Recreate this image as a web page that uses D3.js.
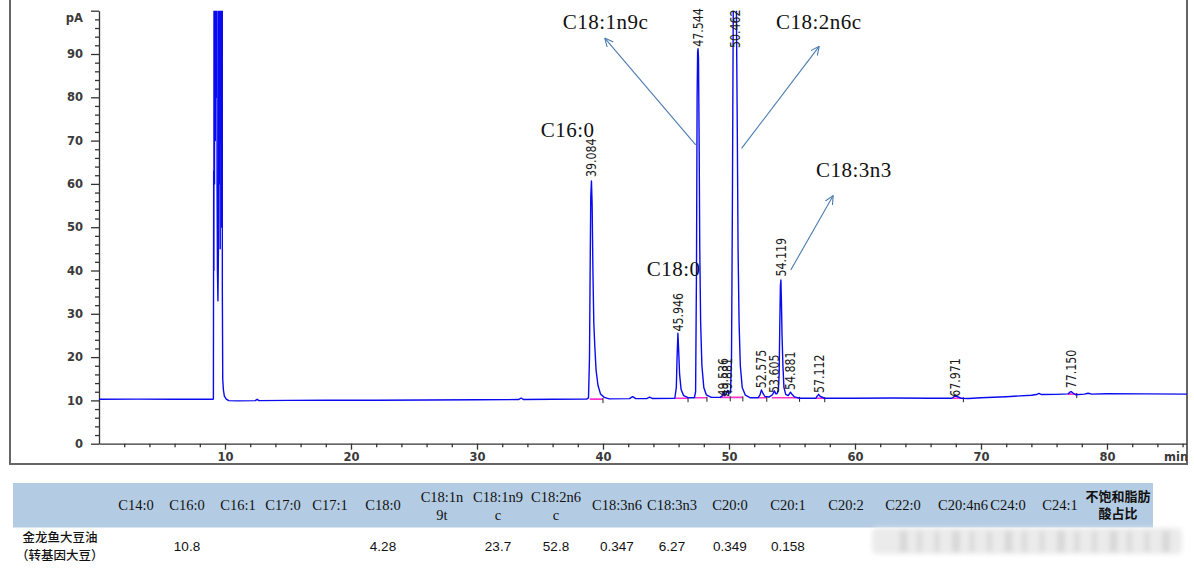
<!DOCTYPE html>
<html><head><meta charset="utf-8">
<script src="https://cdn.jsdelivr.net/npm/d3@7"></script>
<style>body{margin:0;background:#fff}svg{display:block}</style>
</head><body>
<svg id="c" width="1194" height="569"></svg>
<script>
// ---------------- DATA ----------------
// chromatogram trace: [retention time (min), signal (pA)]
const trace = [
 [0,10.25],[3,10.3],[6,10.25],[9.0,10.25],[9.08,10.3],[9.10,63],[9.12,40],[9.14,250],[9.17,60],[9.20,250],[9.23,70],[9.26,250],[9.29,80],[9.32,250],[9.34,250],[9.37,60],[9.40,40],[9.44,33],[9.48,45],[9.53,250],[9.56,60],[9.59,250],[9.62,45],[9.65,250],[9.68,70],[9.71,250],[9.74,50],[9.77,250],[9.79,35],[9.82,15],[9.87,12.5],[9.95,11],[10.1,10.3],[10.3,9.95],[11,9.9],[12.4,9.95],[12.55,10.25],[12.7,9.95],[15,10.0],[18,10.05],[22,10.05],[26,10.1],[30,10.15],[33.3,10.2],[33.5,10.55],[33.7,10.2],[36,10.25],[38.7,10.3],[38.85,10.6],[38.93,20],[38.98,40],[39.03,57],[39.084,60.7],[39.14,55],[39.2,40],[39.27,28],[39.35,22.5],[39.45,17],[39.6,13.5],[39.8,11.5],[40.1,10.7],[40.5,10.35],[42.1,10.4],[42.35,10.85],[42.6,10.4],[43.5,10.45],[43.7,10.75],[43.9,10.45],[45.7,10.5],[45.82,13],[45.88,20],[45.946,25.5],[46.0,22],[46.08,16],[46.2,12.5],[46.4,11.1],[46.8,10.6],[47.25,10.6],[47.35,12],[47.42,40],[47.47,80],[47.51,90.5],[47.544,91.2],[47.58,89],[47.63,70],[47.68,45],[47.75,28],[47.85,18],[48.0,13],[48.2,11.3],[48.6,10.7],[49.3,10.7],[49.45,11],[49.536,11.8],[49.65,11.1],[49.75,11.3],[49.881,12.3],[49.98,11.6],[50.12,11.8],[50.2,20],[50.27,55],[50.33,95],[50.37,115],[50.56,115],[50.6,95],[50.66,72],[50.72,45],[50.8,28],[50.9,18],[51.05,13],[51.3,11.2],[51.7,10.6],[52.3,10.6],[52.45,11.2],[52.575,12.4],[52.7,11.6],[52.85,10.9],[53.2,10.8],[53.45,11.3],[53.605,12.2],[53.72,11.5],[53.82,11.6],[53.92,12.5],[53.98,16],[54.03,27],[54.08,36.5],[54.119,37.8],[54.16,33],[54.21,25],[54.28,18],[54.36,13],[54.5,11.4],[54.7,11.1],[54.881,11.9],[55.0,11.4],[55.2,10.8],[55.6,10.5],[56.9,10.5],[57.0,11],[57.112,11.4],[57.25,10.9],[57.6,10.5],[60,10.5],[63,10.55],[66,10.5],[67.7,10.5],[67.85,10.85],[67.971,11.0],[68.1,10.9],[68.4,10.5],[69,10.45],[70,10.6],[72,10.85],[74,11.2],[74.4,11.35],[74.6,11.6],[74.8,11.35],[76,11.4],[76.9,11.5],[77.05,11.9],[77.15,12.05],[77.3,11.7],[77.5,11.3],[78.2,11.45],[78.5,11.65],[78.8,11.45],[80,11.55],[83,11.5],[86.5,11.45]
];
// labelled peaks: retention time and the signal level where the label starts
const peakTimes  = [39.084, 45.946, 47.544, 49.536, 49.881, 50.462, 52.575, 53.605, 54.119, 54.881, 57.112, 67.971, 77.150];
const peakLabelAt = [61.6, 25.9, 91.7, 10.9, 10.9, 91.4, 12.8, 11.7, 38.6, 12.4, 11.7, 10.85, 12.8];
// integration windows [start, end] (min), baseline level (pA)
const integStart = [38.95, 45.72, 47.3, 49.3, 50.12, 52.3, 53.4, 56.85, 67.75, 76.9];
const integEnd   = [40.0, 46.75, 48.25, 50.1, 51.1, 53.0, 55.6, 57.6, 68.6, 77.6];
const integLevel = [10.3, 10.5, 10.6, 10.7, 10.7, 10.6, 10.6, 10.5, 10.5, 11.45];
// annotations
const annoText  = ["C18:1n9c", "C18:2n6c", "C16:0", "C18:3n3", "C18:0"];
const annoTime  = [36.8, 53.73, 35.06, 56.9, 43.47];
const annoLevel = [95.8, 95.8, 70.8, 61.6, 38.7];
const arrowFrom = [[47.36, 69.0], [51.0, 68.2], [54.9, 40.1]];
const arrowTo   = [[40.16, 93.6], [57.14, 91.7], [58.25, 57.2]];
// axis ticks
const yMajorTicks = [0,10,20,30,40,50,60,70,80,90,100];
const xMajorTicks = [10,20,30,40,50,60,70,80];
// table
const tableHeaders = ["C14:0","C16:0","C16:1","C17:0","C17:1","C18:0","C18:1n\n9t","C18:1n9\nc","C18:2n6\nc","C18:3n6","C18:3n3","C20:0","C20:1","C20:2","C22:0","C20:4n6","C24:0","C24:1","不饱和脂肪\n酸占比"];
const tableValues  = ["","10.8","","","","4.28","","23.7","52.8","0.347","6.27","0.349","0.158","","","","","",""];
const rowLabel = ["金龙鱼大豆油","（转基因大豆）"];

// ---------------- LAYOUT ----------------
const colCenters = [136,187,238,283,330,383,442,498,556,617,672,730,788,846,903,963,1008,1060,1118];

const svg = d3.select('#c');
const x = d3.scaleLinear().domain([0, 86.35]).range([99, 1187]);
const y = d3.scaleLinear().domain([0, 100]).range([443.7, 10.7]);

const defs = svg.append('defs');
defs.append('clipPath').attr('id','plotclip').append('rect')
  .attr('x', x(0)).attr('y', y(100)).attr('width', x(86.35)-x(0)).attr('height', y(0)-y(100));
defs.append('clipPath').attr('id','frameclip').append('rect')
  .attr('x', 0).attr('y', 0).attr('width', 1187).attr('height', 569);
defs.append('marker').attr('id','arr').attr('viewBox','0 0 10 10').attr('refX',9).attr('refY',5)
  .attr('markerWidth',9).attr('markerHeight',9).attr('markerUnits','userSpaceOnUse').attr('orient','auto')
  .append('path').attr('d','M0,0.5 L9.5,5 L0,9.5').attr('fill','none').attr('stroke','#4a7bb0').attr('stroke-width',1.2);
const blur = defs.append('filter').attr('id','blur').attr('x','-10%').attr('y','-50%').attr('width','120%').attr('height','200%');
blur.append('feGaussianBlur').attr('stdDeviation', 2.5);

// frame
svg.append('path').attr('d','M10,-3 V464 H1187 V-3').attr('fill','none').attr('stroke','#666').attr('stroke-width',2);

// Y axis
const yMinor = d3.axisLeft(y).tickValues(d3.range(0,101,2).filter(v => v % 10 !== 0)).tickSize(4).tickFormat('');
const yMajor = d3.axisLeft(y).tickValues(yMajorTicks).tickSize(8).tickSizeOuter(0).tickPadding(8)
  .tickFormat(v => v === 100 ? '' : v);
const gy1 = svg.append('g').attr('transform', `translate(${x(0)},0)`).call(yMinor);
gy1.select('.domain').remove();
const gy2 = svg.append('g').attr('transform', `translate(${x(0)},0)`).call(yMajor);
[gy1, gy2].forEach(g => { g.selectAll('line,path').attr('stroke','#333').attr('stroke-width',1.3); });
gy2.selectAll('text').attr('font-family','DejaVu Sans').attr('font-weight','bold').attr('font-size',11.5).attr('fill','#3a3a3a');
svg.append('text').attr('x', 83).attr('y', 18).attr('dy','0.35em').attr('text-anchor','end')
  .attr('font-family','DejaVu Sans').attr('font-weight','bold').attr('font-size',11.5).attr('fill','#3a3a3a').text('pA');

// X axis
const gxWrap = svg.append('g').attr('clip-path','url(#frameclip)');
const xMinor = d3.axisBottom(x).tickValues(d3.range(2,87,2).filter(v => v % 10 !== 0)).tickSize(3.5).tickFormat('');
const xMajor = d3.axisBottom(x).tickValues(xMajorTicks).tickSize(6).tickSizeOuter(0).tickPadding(3);
const gx1 = gxWrap.append('g').attr('transform', `translate(0,${y(0)})`).call(xMinor);
gx1.select('.domain').remove();
const gx2 = gxWrap.append('g').attr('transform', `translate(0,${y(0)})`).call(xMajor);
[gx1, gx2].forEach(g => { g.selectAll('line,path').attr('stroke','#333').attr('stroke-width',1.3); });
gx2.selectAll('text').attr('font-family','DejaVu Sans').attr('font-weight','bold').attr('font-size',11.5).attr('fill','#3a3a3a');
gxWrap.append('text').attr('x', 1164).attr('y', y(0)+9).attr('dy','0.71em')
  .attr('font-family','DejaVu Sans').attr('font-weight','bold').attr('font-size',11.5).attr('fill','#3a3a3a').text('min');

// integration baselines + end ticks
const plot = svg.append('g').attr('clip-path','url(#plotclip)');
plot.selectAll('line.integ').data(integStart).join('line').attr('class','integ')
  .attr('x1', (d,i) => x(d)).attr('x2', (d,i) => x(integEnd[i]))
  .attr('y1', (d,i) => y(integLevel[i])).attr('y2', (d,i) => y(integLevel[i]))
  .attr('stroke','#ff33cc').attr('stroke-width',1.6);
plot.selectAll('line.itick').data(integEnd).join('line').attr('class','itick')
  .attr('x1', d => x(d)).attr('x2', d => x(d))
  .attr('y1', (d,i) => y(integLevel[i]) - 1).attr('y2', (d,i) => y(integLevel[i]) + 4)
  .attr('stroke','#222').attr('stroke-width',1);

// trace
const line = d3.line().x(d => x(d[0])).y(d => y(d[1]));
plot.append('path').datum(trace).attr('d', line).attr('fill','none')
  .attr('stroke','#0a0af0').attr('stroke-width',1.4).attr('stroke-linejoin','round');

// peak labels (rotated)
svg.selectAll('text.pk').data(peakTimes).join('text').attr('class','pk')
  .attr('transform', (d,i) => `translate(${x(d)},${y(peakLabelAt[i])}) rotate(-90) scale(1,1.25)`)
  .attr('dy','0.36em').attr('text-anchor','start')
  .attr('font-family','DejaVu Sans').attr('font-size',11).attr('fill','#1a1a1a')
  .text(d => d.toFixed(3));

// arrows
svg.selectAll('line.arr').data(arrowFrom).join('line').attr('class','arr')
  .attr('x1', d => x(d[0])).attr('y1', d => y(d[1]))
  .attr('x2', (d,i) => x(arrowTo[i][0])).attr('y2', (d,i) => y(arrowTo[i][1]))
  .attr('stroke','#4a7bb0').attr('stroke-width',1.1).attr('marker-end','url(#arr)');

// annotations
svg.selectAll('text.anno').data(annoText).join('text').attr('class','anno')
  .attr('x', (d,i) => x(annoTime[i])).attr('y', (d,i) => y(annoLevel[i]))
  .attr('font-family','Liberation Serif').attr('font-size',21).attr('letter-spacing',0.5).attr('fill','#111')
  .text(d => d);

// ---------------- TABLE ----------------
const tbl = svg.append('g');
tbl.append('rect').attr('x',13).attr('y',483).attr('width',1153-13).attr('height',44.5).attr('fill','#b4cce3');
// blurred watermark area
const wm = tbl.append('g').attr('filter','url(#blur)');
wm.append('rect').attr('x',872).attr('y',528).attr('width',310).attr('height',26).attr('rx',5).attr('fill','#ebebeb');
wm.selectAll('rect.wb').data(d3.range(0,16)).join('rect').attr('class','wb')
  .attr('x', d => 900 + d*17.5).attr('y',531).attr('width', d => (d%3===0?7:4)).attr('height',21).attr('fill','#d6d6d6');

tableHeaders.forEach((h, i) => {
  const lines = h.split('\n');
  const last = i === tableHeaders.length - 1;
  const t = tbl.append('text').attr('text-anchor','middle')
    .attr('font-family', last ? 'Noto Sans CJK SC' : 'Liberation Serif')
    .attr('font-weight', last ? 'bold' : 'normal')
    .attr('font-size', last ? 13 : 14.5).attr('fill','#111');
  if (lines.length === 1) {
    t.append('tspan').attr('x', colCenters[i]).attr('y', 505).attr('dy','0.35em').text(lines[0]);
  } else {
    const lh = last ? 17 : 18;
    lines.forEach((l, k) => t.append('tspan').attr('x', colCenters[i]).attr('y', (last ? 496 : 497) + k*lh).attr('dy','0.35em').text(l));
  }
});
tableValues.forEach((v, i) => {
  if (!v) return;
  tbl.append('text').attr('x', colCenters[i]).attr('y', 546.5).attr('dy','0.35em').attr('text-anchor','middle')
    .attr('font-family','Liberation Sans').attr('font-size',13.5).attr('fill','#111').text(v);
});
const rl = tbl.append('text').attr('font-family','Noto Sans CJK SC').attr('font-size',12.5).attr('font-weight',500).attr('fill','#111');
rowLabel.forEach((l, k) => {
  rl.append('tspan').attr('x', k === 0 ? 22.5 : 16).attr('y', 538 + k*18).attr('dy','0.35em').text(l);
});
</script>
</body></html>
